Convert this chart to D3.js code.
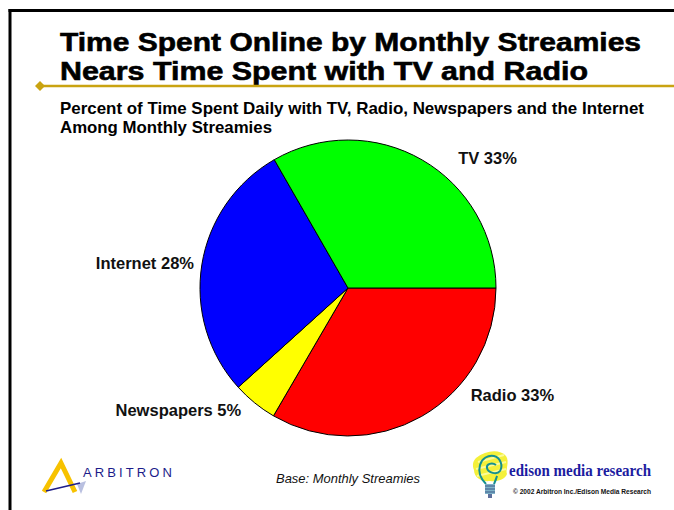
<!DOCTYPE html>
<html><head><meta charset="utf-8">
<script src="https://cdn.jsdelivr.net/npm/d3@7"></script>
<style>html,body{margin:0;padding:0;background:#fff;}svg{display:block;}</style>
</head><body>
<script>
// ---- data ----
const categories = ["Radio", "Newspapers", "Internet", "TV"];
const values = [33.4, 4.9, 28.4, 33.3];
const labels = ["Radio 33%", "Newspapers 5%", "Internet 28%", "TV 33%"];
const sliceColors = ["#ff0000", "#ffff00", "#0000ff", "#00ff00"];
const titleLines = ["Time Spent Online by Monthly Streamies", "Nears Time Spent with TV and Radio"];
const subtitleLines = ["Percent of Time Spent Daily with TV, Radio, Newspapers and the Internet", "Among Monthly Streamies"];
const baseNote = "Base: Monthly Streamies";

const W = 674, H = 510;
const svg = d3.select("body").append("svg").attr("width", W).attr("height", H);

// frame lines
svg.append("line").attr("x1", 10).attr("x2", 10).attr("y1", 9).attr("y2", H).attr("stroke", "#000").attr("stroke-width", 3);
svg.append("line").attr("x1", 8.5).attr("x2", W).attr("y1", 10.5).attr("y2", 10.5).attr("stroke", "#000").attr("stroke-width", 3);

// title
const font = "'Liberation Sans', Arial, Helvetica, sans-serif";
const tW = [581, 528];
titleLines.forEach((t, i) => {
  svg.append("text").attr("x", 60).attr("y", 50.5 + i * 29.3).text(t)
    .attr("font-family", font).attr("font-weight", "bold").attr("font-size", 26)
    .attr("stroke", "#000").attr("stroke-width", 0.6)
    .attr("textLength", tW[i]).attr("lengthAdjust", "spacingAndGlyphs").attr("fill", "#000");
});

// gold rule
const gold = "#c9a311";
svg.append("line").attr("x1", 40).attr("x2", W).attr("y1", 86).attr("y2", 86).attr("stroke", gold).attr("stroke-width", 2.5);
svg.append("path").attr("d", "M40,81 L45,86 L40,91 L35,86 Z").attr("fill", gold);

// subtitle
const sW = [584, 212];
subtitleLines.forEach((t, i) => {
  svg.append("text").attr("x", 60).attr("y", 114 + i * 19).text(t)
    .attr("font-family", font).attr("font-weight", "bold").attr("font-size", 16.5)
    .attr("textLength", sW[i]).attr("lengthAdjust", "spacingAndGlyphs").attr("fill", "#000");
});

// pie
const cx = 348, cy = 288, R = 148;
const color = d3.scaleOrdinal().domain(categories).range(sliceColors);
const pie = d3.pie().sort(null).value(d => d.v).startAngle(Math.PI / 2).endAngle(Math.PI / 2 + 2 * Math.PI);
const data = categories.map((c, i) => ({ c, v: values[i], label: labels[i] }));
const arcs = pie(data);
const arc = d3.arc().innerRadius(0).outerRadius(R);
const g = svg.append("g").attr("transform", `translate(${cx},${cy})`);
g.selectAll("path.slice").data(arcs).join("path").attr("class", "slice")
  .attr("d", arc).attr("fill", d => color(d.data.c))
  .attr("stroke", "#000").attr("stroke-width", 1).attr("stroke-linejoin", "round");

// labels: placed relative to point on an outer label arc
const labelArc = d3.arc().innerRadius(R + 12).outerRadius(R + 12);
const labelNudge = { "Radio": [43, -32], "Newspapers": [-6, -2], "Internet": [4, 0], "TV": [30, 9] };
g.selectAll("text.lbl").data(arcs).join("text").attr("class", "lbl")
  .each(function (d) {
    const [x, y] = labelArc.centroid(d);
    const mid = (d.startAngle + d.endAngle) / 2;
    const right = Math.sin(mid) > 0;
    const n = labelNudge[d.data.c];
    d3.select(this).attr("x", x + n[0]).attr("y", y + n[1])
      .attr("text-anchor", right ? "start" : "end");
  })
  .attr("dy", "0.35em")
  .attr("font-family", font).attr("font-weight", "bold").attr("font-size", 16.5).attr("fill", "#111")
  .text(d => d.data.label);

// footer note
svg.append("text").attr("x", 276).attr("y", 483).text(baseNote)
  .attr("font-family", font).attr("font-style", "italic").attr("font-size", 13)
  .attr("textLength", 144).attr("lengthAdjust", "spacingAndGlyphs").attr("fill", "#111");

// Arbitron logo
const navy = "#1c1c8a";
const ab = svg.append("g");
ab.append("path").attr("d", "M44,492 L61,463 L75,492").attr("fill", "none").attr("stroke", "#f7c200").attr("stroke-width", 5).attr("stroke-linejoin", "miter");
ab.append("path").attr("d", "M77,484 L86,481 L81,494 Z").attr("fill", "#a8b0d8").attr("opacity", 0.8);
ab.append("line").attr("x1", 46).attr("y1", 491).attr("x2", 80).attr("y2", 483).attr("stroke", navy).attr("stroke-width", 1.6);
ab.append("text").attr("x", 83).attr("y", 477).text("ARBITRON")
  .attr("font-family", font).attr("font-size", 13).attr("fill", navy)
  .attr("textLength", 89).attr("lengthAdjust", "spacing");

// Edison logo
const ed = svg.append("g");
ed.append("path").attr("d", "M476,458 C486,450 500,449 506,456 C510,462 505,470 507,474 C505,480 496,482 490,481 C482,482 474,478 474,470 C472,465 473,461 476,458 Z").attr("fill", "#f4f03a");
ed.append("path").attr("d", "M478,462 L504,455 M476,469 L506,462 M477,476 L506,469").attr("stroke", "#fbfb9a").attr("stroke-width", 2);
ed.append("path").attr("d", "M486,484 C480,478 478,472 480,465 C482,458 488,455 494,456 C501,458 503,466 500,471 C497,475 488,473 487,468 C486,464 492,462 496,465 M497,476 C496,480 495,482 494,484 Z")
  .attr("fill", "none").attr("stroke", "#149090").attr("stroke-width", 2);
ed.append("rect").attr("x", 485).attr("y", 484).attr("width", 10).attr("height", 10).attr("fill", "#7fb2c8");
ed.append("path").attr("d", "M485,486 L495,486 M485,489 L495,489 M485,492 L495,492").attr("stroke", "#3d5a8a").attr("stroke-width", 1);
ed.append("rect").attr("x", 488).attr("y", 494).attr("width", 4).attr("height", 4).attr("fill", "#5c6f9c");
ed.append("text").attr("x", 509).attr("y", 476).text("edison media research")
  .attr("font-family", "'Liberation Serif', 'Times New Roman', serif").attr("font-weight", "bold").attr("font-size", 16.5).attr("fill", "#1c1ca0")
  .attr("textLength", 142).attr("lengthAdjust", "spacingAndGlyphs");
ed.append("text").attr("x", 513).attr("y", 494).text("© 2002 Arbitron Inc./Edison Media Research")
  .attr("font-family", font).attr("font-weight", "bold").attr("font-size", 6.5).attr("fill", "#111")
  .attr("textLength", 138).attr("lengthAdjust", "spacingAndGlyphs");
</script>
</body></html>
